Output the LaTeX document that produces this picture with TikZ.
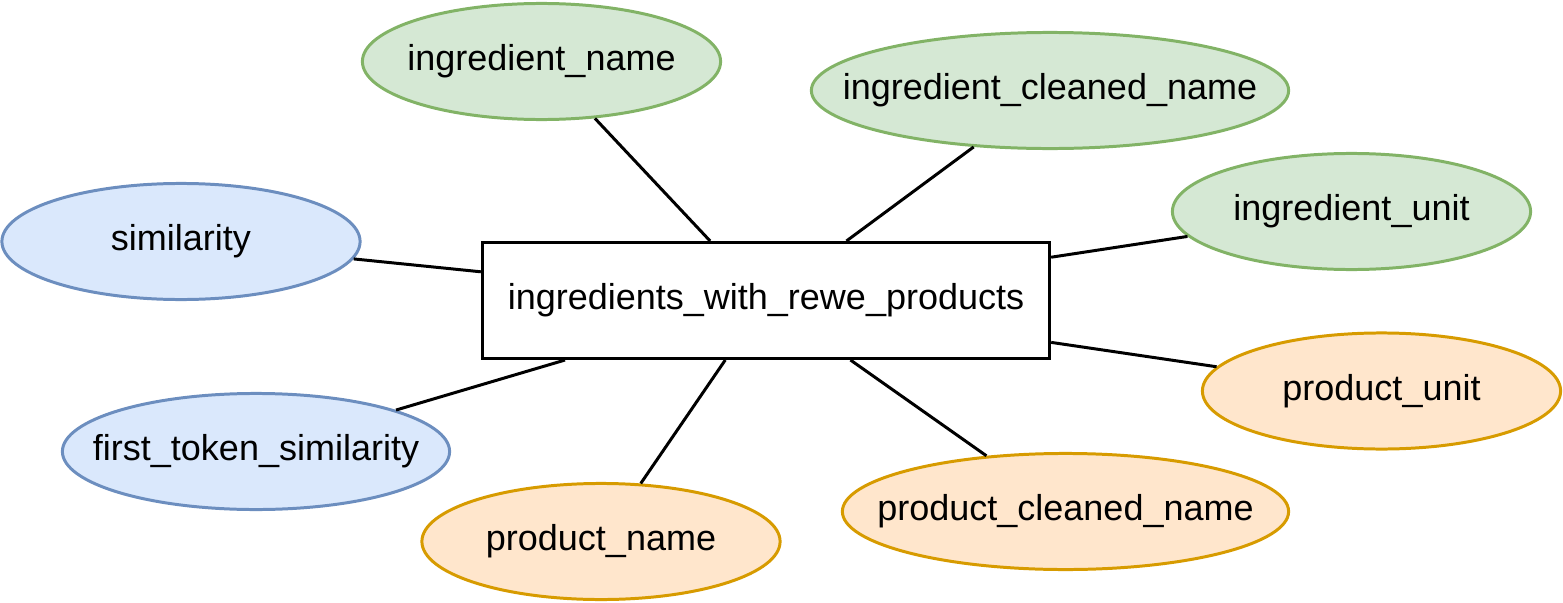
\documentclass[tikz,border=0pt]{standalone}
\usepackage{fontspec}
\setmainfont{Liberation Sans}
\usetikzlibrary{shapes.geometric}

\definecolor{greenfill}{HTML}{D5E8D4}
\definecolor{greendraw}{HTML}{82B366}
\definecolor{bluefill}{HTML}{DAE8FC}
\definecolor{bluedraw}{HTML}{6C8EBF}
\definecolor{orangefill}{HTML}{FFE6CC}
\definecolor{orangedraw}{HTML}{D79B00}

\tikzset{
  attr/.style={ellipse, inner sep=0pt, minimum height=1.16cm, line width=0.85pt,
    label={[font=\fontsize{10.24}{12}\selectfont]center:#1}},
  ingattr/.style={attr=#1, draw=greendraw, fill=greenfill},
  simattr/.style={attr=#1, draw=bluedraw, fill=bluefill},
  prodattr/.style={attr=#1, draw=orangedraw, fill=orangefill},
  relbox/.style={draw=black, fill=white, line width=0.85pt, inner sep=0pt,
    minimum width=5.67cm, minimum height=1.16cm, font=\fontsize{10.24}{12}\selectfont},
  link/.style={line width=0.85pt}
}

\begin{document}
\begin{tikzpicture}[x=0.01cm, y=-0.01cm]

\useasboundingbox (0,0) rectangle (1563,603);

\node[relbox] (rel) at (766,300.5) {ingredients\_with\_rewe\_products\hspace{0.12cm}};

\node[ingattr={ingredient\_name}, minimum width=3.58cm] (ingname) at (541.5,61.5) {};
\node[ingattr={ingredient\_cleaned\_name}, minimum width=4.77cm] (ingclean) at (1050,90.5) {};
\node[ingattr={ingredient\_unit}, minimum width=3.58cm] (ingunit) at (1351.5,211.5) {};

\node[simattr={similarity}, minimum width=3.58cm] (sim) at (181,241.5) {};
\node[simattr={first\_token\_similarity}, minimum width=3.87cm] (firstsim) at (256,451.5) {};

\node[prodattr={product\_name}, minimum width=3.58cm] (prodname) at (601,541.5) {};
\node[prodattr={product\_cleaned\_name}, minimum width=4.46cm] (prodclean) at (1065.5,511.5) {};
\node[prodattr={product\_unit}, minimum width=3.58cm] (produnit) at (1381.5,391) {};

\draw[link] (rel) -- (ingname);
\draw[link] (rel) -- (ingclean);
\draw[link] (rel) -- (ingunit);
\draw[link] (rel) -- (sim);
\draw[link] (rel) -- (firstsim);
\draw[link] (rel) -- (prodname);
\draw[link] (rel) -- (prodclean);
\draw[link] (rel) -- (produnit);

\end{tikzpicture}
\end{document}
